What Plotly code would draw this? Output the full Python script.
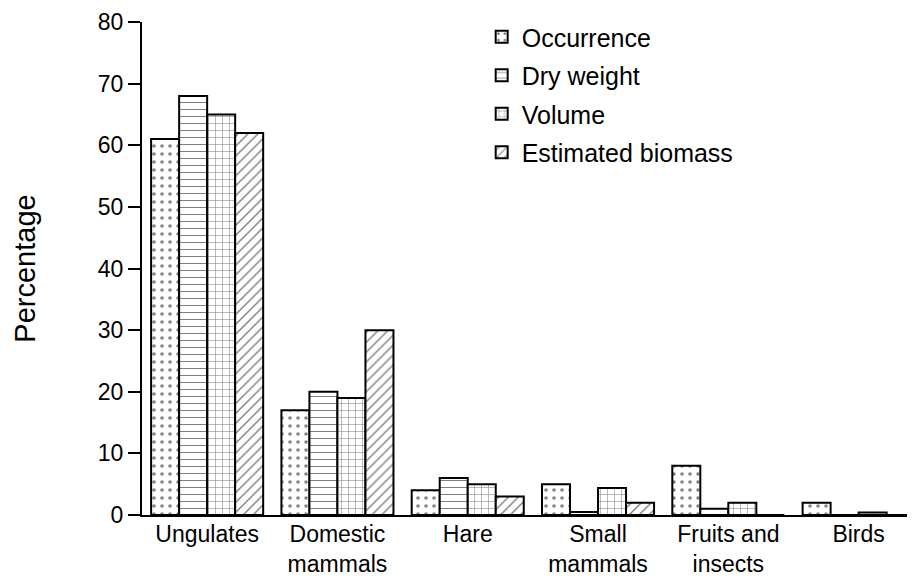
import plotly.graph_objects as go

categories = ["Ungulates", "Domestic<br>mammals", "Hare", "Small<br>mammals", "Fruits and<br>insects", "Birds"]
occurrence = [61, 17, 4, 5, 8, 2]
dry_weight = [68, 20, 6, 0.5, 1, 0]
volume = [65, 19, 5, 4.4, 2, 0.4]
est_biomass = [62, 30, 3, 2, 0, 0]

series = [
    ("Occurrence", occurrence, ".", 8, 0.15),
    ("Dry weight", dry_weight, "-", 7, 0.15),
    ("Volume", volume, "+", 7, 0.15),
    ("Estimated biomass", est_biomass, "/", 7, 0.2),
]

fig = go.Figure()
for i, (name, vals, shape, size, sol) in enumerate(series):
    fig.add_trace(go.Bar(
        name=name, x=categories, y=vals, legendgroup=f"g{i}",
        marker=dict(color="white",
                    line=dict(color="black", width=2),
                    pattern=dict(shape=shape, fgcolor="black", bgcolor="white",
                                 size=size, solidity=sol, fillmode="overlay")),
    ))

font = dict(family="Liberation Sans, Arial, sans-serif", color="black")
fig.update_layout(
    width=907, height=572,
    margin=dict(l=134, r=1, t=14, b=65),
    plot_bgcolor="white", paper_bgcolor="white",
    barmode="group", bargap=0.14, bargroupgap=0,
    font=dict(size=24, **font),
    showlegend=True,
    legend=dict(x=0.44, y=1.016, xanchor="left", yanchor="top",
                font=dict(size=25, **font), bgcolor="rgba(0,0,0,0)",
                itemwidth=30, tracegroupgap=3, traceorder="grouped"),
    xaxis=dict(range=[-0.5, 5.425], showline=True, linecolor="black", linewidth=2,
               ticks="", showgrid=False, automargin=False, ticklabelstandoff=-3,
               tickfont=dict(size=23, **font)),
    yaxis=dict(range=[0, 80], dtick=10, showline=True, linecolor="black", linewidth=2,
               ticks="outside", ticklen=12, tickwidth=2, tickcolor="black",
               showgrid=False, zeroline=False, automargin=False,
               tickfont=dict(size=23, **font),
               title=dict(text="Percentage", font=dict(size=29, **font), standoff=54)),
)

fig.write_html("out.html")
